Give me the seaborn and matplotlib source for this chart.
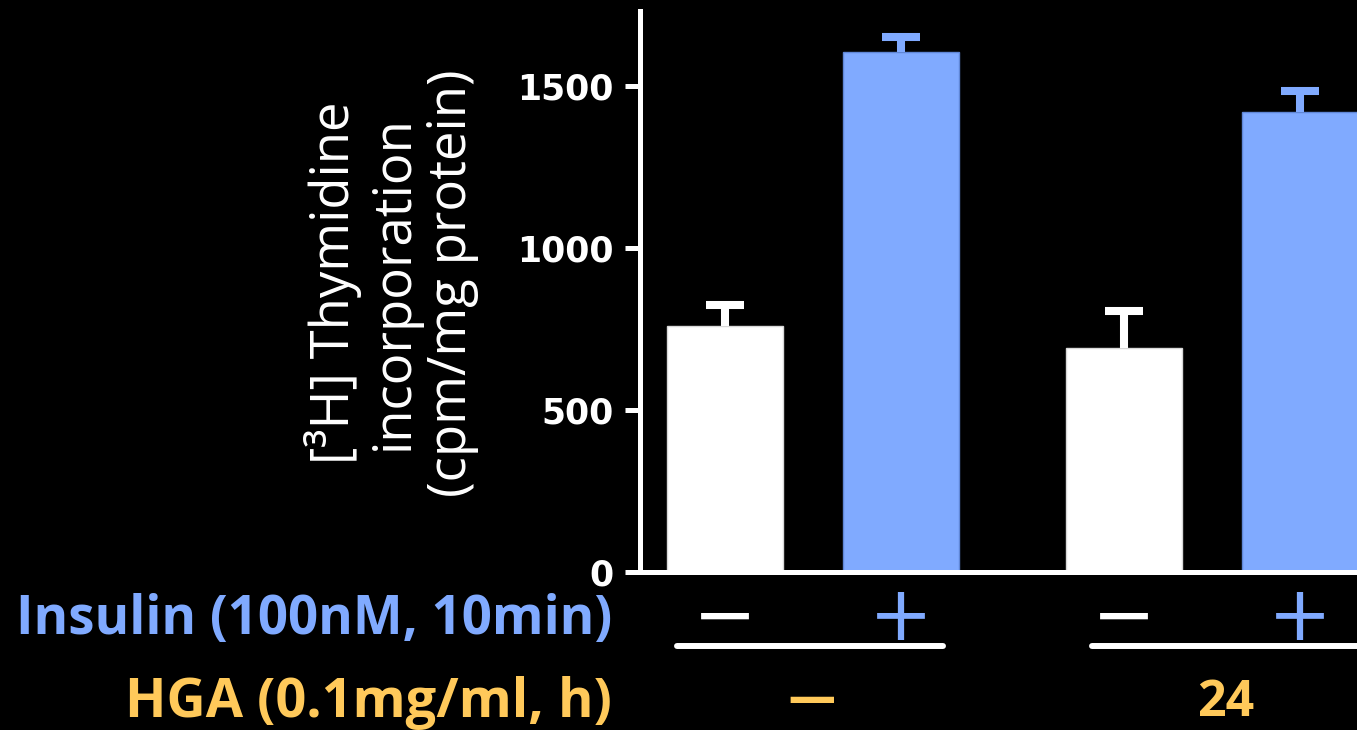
import numpy as np
import pandas as pd
import matplotlib
matplotlib.use("Agg")
import matplotlib.pyplot as plt
import matplotlib.transforms as mtransforms
import seaborn as sns

# ---- data -------------------------------------------------------------
hga_hours = ["—", "—", "24", "24"]          # HGA pretreatment (0.1 mg/ml, h)
insulin = ["−", "+", "−", "+"]               # insulin 100 nM, 10 min
thymidine = [760, 1605, 690, 1420]           # cpm/mg protein
thymidine_sem = [65, 45, 115, 65]
y_ticks = [0, 500, 1000, 1500]

# ---- style ------------------------------------------------------------
BLUE = "#80AAFF"
WHITE = "#FFFFFF"
YELLOW = "#FFC95A"
sns.set_theme(style="ticks")
plt.rcParams["font.family"] = ["DejaVu Sans"]
LABEL_FONT = ["Open Sans", "DejaVu Sans"]

W, H = 1357, 730
fig = plt.figure(figsize=(W / 100, H / 100), dpi=100, facecolor="black")

def fx(px):
    return px / W

def fy(py):
    return 1 - py / H

ax_left, ax_right, ax_top, ax_bottom = 640, 1380, 11, 572
ax = fig.add_axes([fx(ax_left), fy(ax_bottom), fx(ax_right - ax_left), (ax_bottom - ax_top) / H])
ax.set_facecolor("black")

df = pd.DataFrame({"hga": hga_hours, "insulin": insulin,
                   "value": thymidine, "sem": thymidine_sem})

sns.barplot(data=df, x="hga", y="value", hue="insulin",
            order=["—", "24"], hue_order=["−", "+"],
            palette={"−": WHITE, "+": BLUE},
            width=0.882, gap=0.34, dodge=True, errorbar=None,
            legend=False, ax=ax, saturation=1, linewidth=0)
bar_containers = list(ax.containers)

# upper-only error bars, same colour as the bar they sit on
for container, colour, edge in zip(bar_containers, [WHITE, BLUE], ["#d8d8d8", "#5f86d6"]):
    xs, hs, es = [], [], []
    for bar in container:
        bar.set_edgecolor(edge)
        bar.set_linewidth(1.0)
        h = bar.get_height()
        row = df.loc[np.isclose(df["value"], h)].iloc[0]
        xs.append(bar.get_x() + bar.get_width() / 2)
        hs.append(h)
        es.append(row["sem"])
    hs = np.array(hs)
    _, caps, _ = ax.errorbar(xs, hs, yerr=[np.zeros_like(hs), np.array(es)],
                             fmt="none", ecolor=colour, elinewidth=5.8,
                             capsize=14, capthick=5.8, zorder=3)
    for cap in caps:
        if np.allclose(cap.get_ydata(), hs):
            cap.set_visible(False)

# ---- axes -------------------------------------------------------------
ax.set_xlim(-0.4336, 1 + (ax_right - 1212) / 399)
ax.set_ylim(0, 1731)
ax.set_yticks(y_ticks)
ax.set_xticks([])
ax.set_xlabel("")
for side in ["top", "right"]:
    ax.spines[side].set_visible(False)
for side in ["left", "bottom"]:
    ax.spines[side].set_color(WHITE)
    ax.spines[side].set_linewidth(3.6)
ax.tick_params(axis="y", colors=WHITE, length=10.8, width=3.6, pad=8, labelsize=25)
for lab in ax.get_yticklabels():
    lab.set_fontweight("bold")
    lab.set_color(WHITE)

ax.set_ylabel("[³H] Thymidine\nincorporation\n(cpm/mg protein)",
              color=WHITE, fontsize=38, family=LABEL_FONT, linespacing=1.12)
ax.yaxis.set_label_coords((479 - ax_left) / (ax_right - ax_left),
                          (ax_bottom - 283) / (ax_bottom - ax_top))

# ---- treatment table under the bars ----------------------------------
fig.text(fx(612), fy(634), "Insulin (100nM, 10min)", color=BLUE, fontsize=38,
         fontweight="bold", family=LABEL_FONT, ha="right", va="baseline")
fig.text(fx(612), fy(717), "HGA (0.1mg/ml, h)", color=YELLOW, fontsize=39,
         fontweight="bold", family=LABEL_FONT, ha="right", va="baseline")

trans = mtransforms.blended_transform_factory(ax.transData, fig.transFigure)
for container in bar_containers:
    for bar in container:
        cx = bar.get_x() + bar.get_width() / 2
        row = df.loc[np.isclose(df["value"], bar.get_height())].iloc[0]
        sign = row["insulin"]
        ax.text(cx, fy(640), sign, transform=trans, ha="center", va="baseline",
                fontsize=55, color=BLUE if sign == "+" else WHITE,
                family=["DejaVu Sans"], clip_on=False)

# underline per HGA group and the HGA label
for (x0, x1), lab in zip([(677, 943), (1092, 1360)], ["—", "24"]):
    fig.add_artist(plt.Line2D([fx(x0), fx(x1)], [fy(646), fy(646)],
                              color=WHITE, lw=4.3, transform=fig.transFigure))
    cx = (x0 + x1) / 2
    if lab == "—":
        fig.text(fx(cx + 2), fy(700), lab, color=YELLOW, fontsize=35,
                 family=["DejaVu Sans"], fontweight="bold", ha="center", va="center")
    else:
        fig.text(fx(cx), fy(716), lab, color=YELLOW, fontsize=36,
                 family=LABEL_FONT, fontweight="bold", ha="center", va="baseline")

fig.savefig("out.png", dpi=100, facecolor="black")
